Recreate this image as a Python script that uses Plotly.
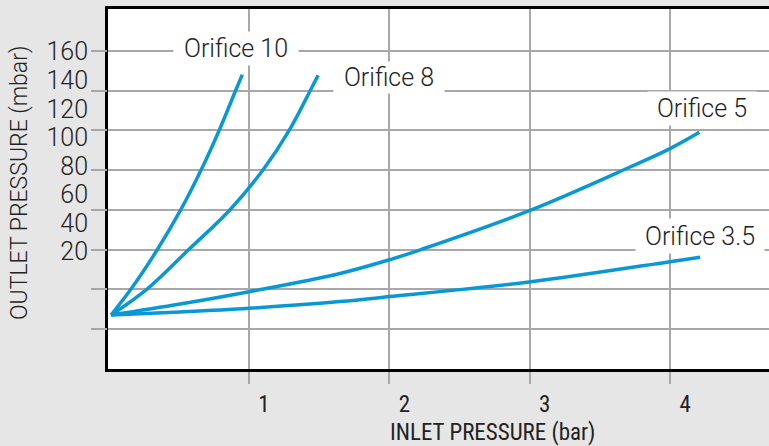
import plotly.graph_objects as go

# ---- data (inlet pressure in bar, outlet pressure in mbar) ----
o10_x = [0.017, 0.163, 0.348, 0.510, 0.661, 0.786, 0.909, 0.952]
o10_y = [-24.3, -5.6, 21.7, 48.7, 77.7, 104.7, 133.9, 144.0]

o8_x = [0.017, 0.280, 0.572, 0.858, 1.103, 1.285, 1.442, 1.492]
o8_y = [-24.3, -5.6, 21.7, 48.7, 77.7, 104.7, 133.9, 143.5]

o5_x = [0.017, 0.509, 1.0, 1.648, 2.005, 2.231, 2.997, 3.715, 4.0, 4.209]
o5_y = [-24.3, -16.6, -8.0, 4.8, 14.5, 21.7, 48.7, 79.3, 92.2, 103.6]

o35_x = [0.017, 0.509, 1.0, 1.648, 2.005, 2.995, 4.0, 4.214]
o35_y = [-24.3, -22.2, -19.6, -14.9, -11.4, -1.2, 13.0, 16.1]

series_names = ["Orifice 10", "Orifice 8", "Orifice 5", "Orifice 3.5"]
label_x = [0.904, 1.996, 4.228, 4.214]
label_y = [162.3, 141.9, 120.6, 31.0]
label_w = [124, 110, 108, 128]
label_h = [33, 31, 33, 34]

x_ticks = [1, 2, 3, 4]
x_ticktext = ["1", "2", "3", "4"]
y_ticks = [20, 40, 60, 80, 100, 120, 140, 160]
grid_rows = [0, 1, 2, 3, 4, 5, 6, 7]

BLUE = "#0a98d5"
GRID = "#a8a8a8"
TXT = "#222222"
FONT = "Roboto, 'Open Sans', sans-serif"
NARROW = "'Liberation Sans Narrow', 'Roboto Condensed', Roboto, sans-serif"

fig = go.Figure()
for xs, ys in [(o10_x, o10_y), (o8_x, o8_y), (o5_x, o5_y), (o35_x, o35_y)]:
    fig.add_trace(go.Scatter(x=xs, y=ys, mode="lines",
                             line=dict(color=BLUE, width=3.5, shape="spline", smoothing=1.0),
                             showlegend=False, hoverinfo="skip"))
# helper trace so the grid axis is drawn
fig.add_trace(go.Scatter(x=[None], y=[None], yaxis="y2", showlegend=False, hoverinfo="skip"))

for name, lx, ly, w, h in zip(series_names, label_x, label_y, label_w, label_h):
    fig.add_annotation(x=lx, y=ly, xref="x", yref="y", text=name, showarrow=False,
                       font=dict(family=FONT, size=25, color=TXT, weight=300),
                       bgcolor="white", width=w, height=h, borderpad=0,
                       xanchor="center", yanchor="middle")

fig.add_annotation(x=(19.5 - 108) / 661, y=(369 - 183.5) / 360, xref="paper", yref="paper",
                   text="OUTLET PRESSURE (mbar)", textangle=-90, showarrow=False,
                   font=dict(family=FONT, size=23, color=TXT, weight=300),
                   xanchor="center", yanchor="middle")
fig.add_annotation(x=(492.5 - 108) / 661, y=(369 - 432) / 360, xref="paper", yref="paper",
                   text="INLET PRESSURE (bar)", showarrow=False,
                   font=dict(family=NARROW, size=23, color=TXT), xanchor="center", yanchor="middle")

fig.update_layout(
    width=769, height=446,
    margin=dict(l=108, r=0, t=9, b=77),
    paper_bgcolor="#e6e6e6", plot_bgcolor="white",
    xaxis=dict(range=[-0.005, 4.705], tickvals=x_ticks, ticktext=x_ticktext,
               showgrid=True, gridcolor=GRID, gridwidth=1.5,
               ticks="outside", ticklen=12, tickcolor=GRID, tickwidth=1.5,
               showline=True, linecolor="black", linewidth=3, mirror=True,
               zeroline=False, ticklabelshift=15,
               tickfont=dict(family=NARROW, size=23, color=TXT)),
    yaxis=dict(range=[-62.1, 189.9], tickvals=y_ticks, showgrid=False, ticks="",
               showline=True, linecolor="black", linewidth=3, zeroline=False,
               ticklabelstandoff=12,
               tickfont=dict(family=FONT, size=25, color=TXT, weight=300)),
    yaxis2=dict(range=[-1.008, 8.06], overlaying="y", side="left", anchor="x",
                tickvals=grid_rows, showticklabels=False,
                showgrid=True, gridcolor=GRID, gridwidth=1.5,
                ticks="outside", ticklen=16, tickcolor=GRID, tickwidth=1.5,
                showline=False, zeroline=False),
)

fig.write_html("out.html", config={"displayModeBar": False},
               post_script="document.body.style.margin='0';document.body.style.overflow='hidden';")
